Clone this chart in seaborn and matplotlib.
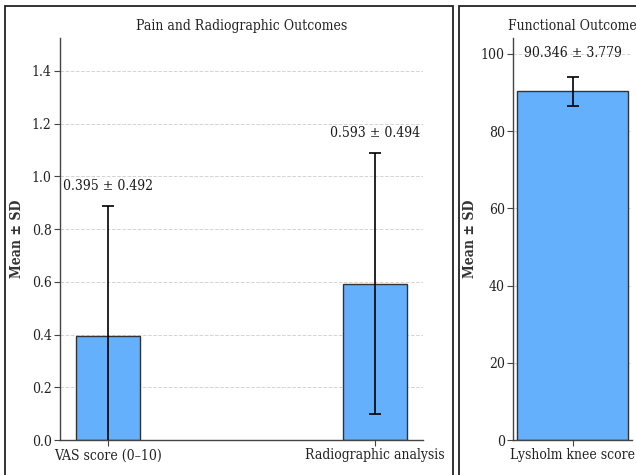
import matplotlib
matplotlib.use("Agg")
import matplotlib.pyplot as plt
import seaborn as sns
import pandas as pd
from matplotlib.patches import Rectangle

# Data
left_categories = ["VAS score (0–10)", "Radiographic analysis"]
left_means = [0.395, 0.593]
left_sds = [0.492, 0.494]

right_categories = ["Lysholm knee score"]
right_means = [90.346]
right_sds = [3.779]

left_title = "Pain and Radiographic Outcomes"
right_title = "Functional Outcome"
ylabel = "Mean ± SD"

sns.set_theme(style="white")
plt.rcParams["font.family"] = ["DejaVu Serif"]
plt.rcParams["font.stretch"] = "condensed"

BAR = "#64b0fc"
EDGE = "#333333"

fig = plt.figure(figsize=(6.36, 4.75), dpi=100)
axL = fig.add_axes([60/636, 1-440/475, (423-60)/636, (440-38)/475])
axR = fig.add_axes([513/636, 1-440/475, (632-513)/636, (440-38)/475])

def panel(ax, cats, means, sds, width, ylim, xlim, yticks, title, offset, fmt):
    df = pd.DataFrame({"cat": cats, "mean": means})
    sns.barplot(data=df, x="cat", y="mean", color=BAR, edgecolor=EDGE,
                linewidth=1.0, width=width, saturation=1, ax=ax, zorder=2)
    xs = list(range(len(cats)))
    ax.errorbar(xs, means, yerr=sds, fmt="none", ecolor="black",
                elinewidth=1.2, capsize=4, capthick=1.2, zorder=3)
    for x, m, s in zip(xs, means, sds):
        ax.text(x, m + s + offset, fmt.format(m, s), ha="center", va="bottom",
                fontsize=10, color="#1a1a1a")
    ax.set_ylim(*ylim)
    ax.set_xlim(*xlim)
    ax.set_yticks(yticks)
    ax.set_xlabel("")
    ax.set_ylabel(ylabel, fontsize=10, fontweight="bold", color="#333333")
    ax.set_title(title, fontsize=10, color="#222222", pad=6)
    ax.grid(axis="y", linestyle="--", color="#d4d4d4", linewidth=0.7, zorder=0)
    ax.set_axisbelow(True)
    for sp in ["top", "right"]:
        ax.spines[sp].set_visible(False)
    for sp in ["left", "bottom"]:
        ax.spines[sp].set_color("#444444")
        ax.spines[sp].set_linewidth(1.0)
    ax.tick_params(axis="both", which="major", length=4, width=0.8,
                   color="#444444", labelsize=10, labelcolor="#222222",
                   left=True, bottom=True, pad=2)

panel(axL, left_categories, left_means, left_sds, 0.24, (0, 1.525),
      (-0.18, 1.18), [0.0, 0.2, 0.4, 0.6, 0.8, 1.0, 1.2, 1.4],
      left_title, 0.05, "{:.3f} ± {:.3f}")
axL.set_yticklabels([f"{v:.1f}" for v in [0.0, 0.2, 0.4, 0.6, 0.8, 1.0, 1.2, 1.4]])
axL.yaxis.set_label_coords(-0.10, 0.5)

panel(axR, right_categories, right_means, right_sds, 0.93, (0, 104.1),
      (-0.5, 0.5), [0, 20, 40, 60, 80, 100],
      right_title, 4.3, "{:.3f} ± {:.3f}")
axR.yaxis.set_label_coords(-0.30, 0.5)

# panel frames
fig.patches.append(Rectangle((5/636, -0.05), (453-5)/636, 1.05 - 6/475,
                             transform=fig.transFigure, fill=False,
                             edgecolor="#222222", linewidth=1.3))
fig.patches.append(Rectangle((459/636, -0.05), 0.5, 1.05 - 6/475,
                             transform=fig.transFigure, fill=False,
                             edgecolor="#222222", linewidth=1.3))

fig.savefig("out.png", dpi=100)
